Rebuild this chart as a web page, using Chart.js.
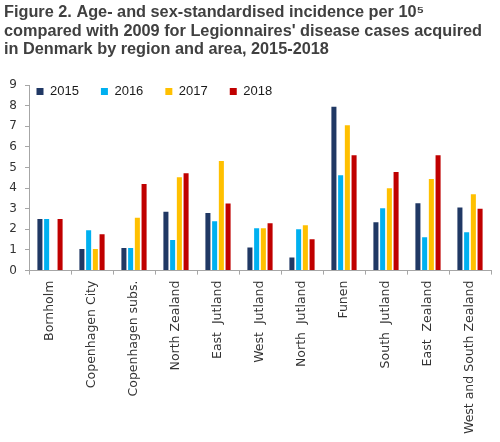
<!DOCTYPE html>
<html>
<head>
<meta charset="utf-8">
<script src="https://cdn.jsdelivr.net/npm/chart.js@4/dist/chart.umd.min.js"></script>
<style>
  html, body { margin: 0; padding: 0; background: #fff; }
  #wrap { width: 500px; height: 442px; position: relative; }
</style>
</head>
<body>
<div id="wrap"><canvas id="c" width="500" height="442"></canvas></div>
<script>
const titleLines = [
  "Figure 2. Age- and sex-standardised incidence per 10\u2075",
  "compared with 2009 for Legionnaires' disease cases acquired",
  "in Denmark by region and area, 2015-2018"
];
const categories = ["Bornholm", "Copenhagen City", "Copenhagen subs.", "North Zealand", "East  Jutland", "West  Jutland", "North  Jutland", "Funen", "South  Jutland", "East  Zealand", "West and South Zealand"];
const seriesNames = ["2015", "2016", "2017", "2018"];
const values2015 = [2.5, 1.05, 1.1, 2.85, 2.8, 1.12, 0.63, 7.95, 2.35, 3.27, 3.06];
const values2016 = [2.5, 1.96, 1.1, 1.48, 2.4, 2.05, 2.0, 4.62, 3.02, 1.62, 1.86];
const values2017 = [0, 1.05, 2.56, 4.53, 5.32, 2.05, 2.2, 7.05, 4.0, 4.44, 3.7];
const values2018 = [2.5, 1.76, 4.2, 4.72, 3.26, 2.3, 1.52, 5.6, 4.78, 5.6, 3.0];
const yTicks = [0, 1, 2, 3, 4, 5, 6, 7, 8, 9];

const colors = ["#203864", "#00B0F0", "#FFC000", "#C00000"];
const axisColor = "#a6a6a6";
const textColor = "#333333";

const legendMover = {
  id: 'legendMover',
  afterLayout(chart) {
    const lg = chart.legend;
    if (!lg) return;
    lg.top = 63;
    lg.bottom = 110;
    lg.height = 47;
    lg.left = 14.5;
  }
};

new Chart(document.getElementById('c'), {
  type: 'bar',
  data: {
    labels: categories,
    datasets: [values2015, values2016, values2017, values2018].map((v, i) => ({
      label: seriesNames[i],
      data: v,
      backgroundColor: colors[i],
      borderWidth: 0,
      categoryPercentage: 0.64,
      barPercentage: 0.75
    }))
  },
  plugins: [legendMover],
  options: {
    responsive: false,
    animation: false,
    devicePixelRatio: 1,
    layout: { padding: { left: 4, right: 9, top: 0, bottom: 2 } },
    plugins: {
      title: {
        display: true,
        text: titleLines,
        align: 'start',
        color: '#404040',
        font: { family: 'Liberation Sans', size: 16.3, weight: 'bold', lineHeight: 1.126 },
        padding: { top: 3.5, bottom: 26.5 }
      },
      legend: {
        display: true,
        position: 'top',
        align: 'start',
        maxHeight: 0.01,
        labels: {
          boxWidth: 7,
          boxHeight: 7,
          padding: 22,
          color: '#1a1a1a',
          font: { family: 'Liberation Sans', size: 13 }
        }
      },
      tooltip: { enabled: false }
    },
    scales: {
      x: {
        offset: true,
        grid: {
          display: true,
          drawOnChartArea: false,
          drawTicks: true,
          tickLength: 4,
          offset: true,
          color: axisColor
        },
        border: { display: true, color: axisColor, width: 1 },
        ticks: {
          maxRotation: 90,
          minRotation: 90,
          autoSkip: false,
          padding: 6,
          color: textColor,
          font: { family: 'DejaVu Sans', size: 12.5 }
        }
      },
      y: {
        min: 0,
        max: 9,
        afterBuildTicks: (scale) => { scale.ticks = yTicks.map(v => ({ value: v })); },
        afterFit: (scale) => { scale.width = 25; },
        grid: {
          display: true,
          drawOnChartArea: false,
          drawTicks: true,
          tickLength: 4,
          color: axisColor
        },
        border: { display: true, color: axisColor, width: 1 },
        ticks: {
          padding: 8,
          color: textColor,
          font: { family: 'DejaVu Sans', size: 12 }
        }
      }
    }
  }
});
</script>
</body>
</html>
